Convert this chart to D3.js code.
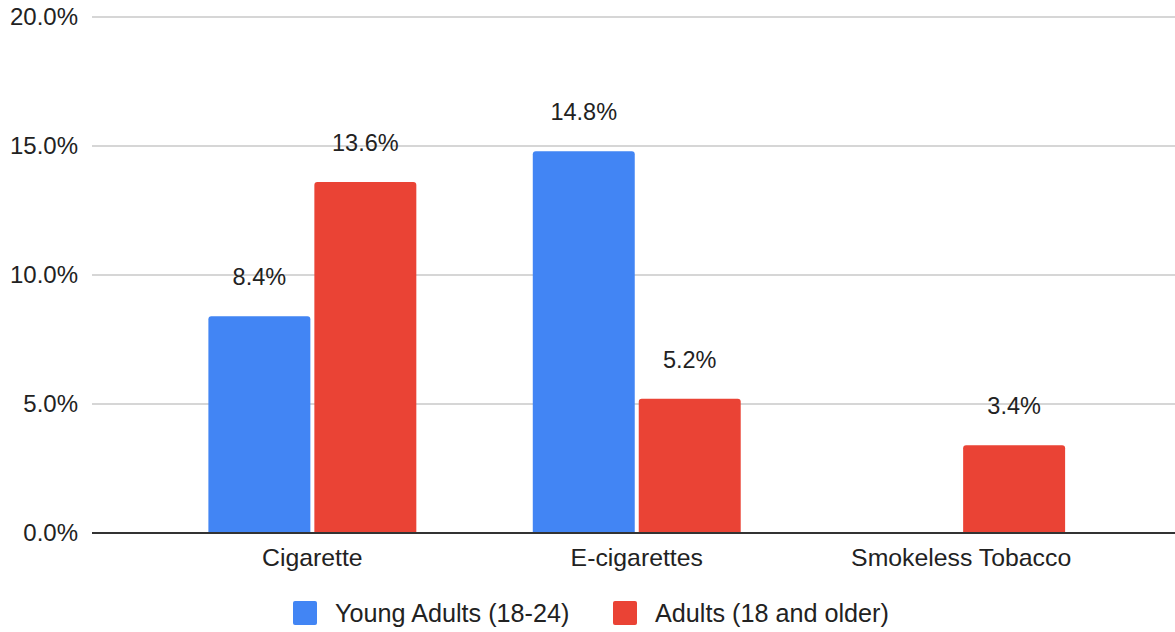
<!DOCTYPE html>
<html>
<head>
<meta charset="utf-8">
<script src="https://cdn.jsdelivr.net/npm/d3@7"></script>
<style>
  html, body { margin: 0; padding: 0; background: #fff; }
  svg { display: block; font-family: "Liberation Sans", Arial, sans-serif; }
</style>
</head>
<body>
<svg id="chart" width="1175" height="632"></svg>
<script>
const categories = ["Cigarette", "E-cigarettes", "Smokeless Tobacco"];
const seriesNames = ["Young Adults (18-24)", "Adults (18 and older)"];
const youngAdults = [8.4, 14.8, null];
const adults = [13.6, 5.2, 3.4];
const yTicks = [0, 5, 10, 15, 20];
const colors = ["#4285F4", "#EA4335"];

const seriesValues = [youngAdults, adults];
const svg = d3.select("#chart");

const y = d3.scaleLinear().domain([0, 20]).range([533, 17]);
const x0 = d3.scaleBand().domain(categories).range([150, 1123.5]).paddingInner(0.359).paddingOuter(0.18);
const x1 = d3.scaleBand().domain(seriesNames).range([0, x0.bandwidth()]).paddingInner(0.0377).paddingOuter(0);

// y tick labels
const yAxis = d3.axisLeft(y).tickValues(yTicks).tickSize(0).tickFormat(d => d3.format(".1f")(d) + "%");
const gAxis = svg.append("g").attr("transform", "translate(78,0)").call(yAxis);
gAxis.select(".domain").remove();
gAxis.selectAll("text").attr("font-size", 24).attr("fill", "#222").attr("x", 0).attr("dy", "0.33em")
  .attr("font-family", "'Liberation Sans', Arial, sans-serif");

// gridlines
svg.append("g").selectAll("line").data(yTicks.filter(t => t !== 0)).join("line")
  .attr("x1", 92).attr("x2", 1175)
  .attr("y1", d => y(d)).attr("y2", d => y(d))
  .attr("stroke", "#c8c8c8").attr("stroke-width", 1.5);

// bars
function topRounded(x, yTop, w, h, r) {
  r = Math.min(r, h, w / 2);
  return `M${x},${yTop + h}V${yTop + r}Q${x},${yTop} ${x + r},${yTop}H${x + w - r}Q${x + w},${yTop} ${x + w},${yTop + r}V${yTop + h}Z`;
}

const barData = [];
categories.forEach((c, i) => {
  seriesNames.forEach((s, j) => {
    const v = seriesValues[j][i];
    if (v !== null && v !== undefined) barData.push({ c, s, v, j });
  });
});

svg.append("g").selectAll("path").data(barData).join("path")
  .attr("d", d => topRounded(x0(d.c) + x1(d.s), y(d.v), x1.bandwidth(), y(0) - y(d.v), 3))
  .attr("fill", d => colors[d.j]);

// value labels
svg.append("g").selectAll("text").data(barData).join("text")
  .attr("x", d => x0(d.c) + x1(d.s) + x1.bandwidth() / 2)
  .attr("y", d => y(d.v) - 31)
  .attr("text-anchor", "middle")
  .attr("font-size", 23.5)
  .attr("fill", "#222")
  .text(d => d3.format(".1f")(d.v) + "%");

// baseline axis
svg.append("line").attr("x1", 92).attr("x2", 1175).attr("y1", y(0)).attr("y2", y(0))
  .attr("stroke", "#333").attr("stroke-width", 2);

// category labels
const xAxis = d3.axisBottom(x0).tickSize(0);
const gx = svg.append("g").attr("transform", `translate(0,${y(0)})`).call(xAxis);
gx.select(".domain").remove();
gx.selectAll("text").attr("font-size", 24.8).attr("fill", "#222").attr("y", 33).attr("dy", 0)
  .attr("font-family", "'Liberation Sans', Arial, sans-serif");

// legend
const legendItems = [
  { name: seriesNames[0], color: colors[0], x: 293 },
  { name: seriesNames[1], color: colors[1], x: 613 }
];
const lg = svg.append("g").selectAll("g").data(legendItems).join("g")
  .attr("transform", d => `translate(${d.x},0)`);
lg.append("rect").attr("x", 0).attr("y", 601).attr("width", 24).attr("height", 24).attr("rx", 2)
  .attr("fill", d => d.color);
lg.append("text").attr("x", 42).attr("y", 622).attr("font-size", 25.2).attr("fill", "#222")
  .text(d => d.name);
</script>
</body>
</html>
